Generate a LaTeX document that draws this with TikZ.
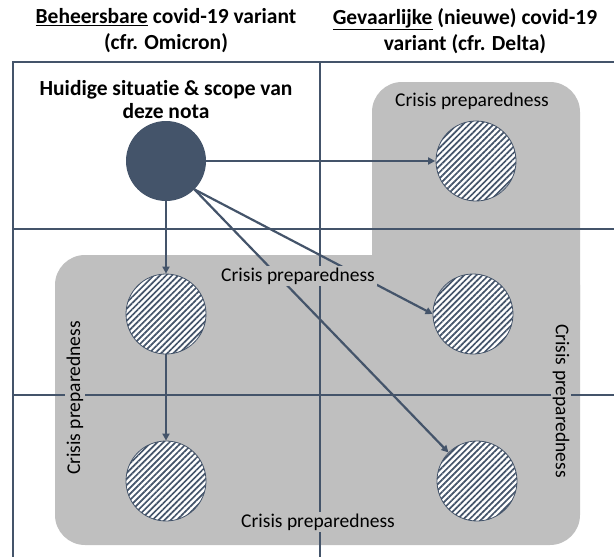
\documentclass[tikz,border=0pt]{standalone}
\usepackage{fontspec}
\setmainfont{Carlito}[Ligatures=NoCommon]
\usetikzlibrary{patterns.meta,arrows.meta}
\definecolor{ink}{HTML}{44546A}
\definecolor{prep}{HTML}{BFBFBF}
\begin{document}
\begin{tikzpicture}[x=1pt,y=-1pt,
  gridline/.style={draw=ink,line width=2.7pt},
  conn/.style={draw=ink,line width=2.2pt,-{Triangle[length=7pt,width=7pt]}},
  hatched/.style={circle,draw=ink,line width=0.8pt,minimum size=80pt,inner sep=0pt,
    preaction={fill=white},pattern={Lines[angle=45,distance=4.3pt,line width=1.7pt]},pattern color=ink},
  preplabel/.style={fill=prep,inner sep=2pt,font=\fontsize{19.5}{22}\selectfont},
  header/.style={align=center,font=\fontsize{21.5}{26}\selectfont\bfseries}]
\useasboundingbox (0,0) rectangle (614,557);
% gray regions
\fill[prep,rounded corners=30pt] (372,82) rectangle (580,350);
\fill[prep,rounded corners=30pt] (55,255) rectangle (580,545);
% grid
\draw[gridline] (614,62) -- (13,62) -- (13,557);
\draw[gridline] (320,62) -- (320,557);
\draw[gridline] (13,229) -- (614,229);
\draw[gridline] (13,395) -- (614,395);
% headers
\node[header] (hl) at (166,31) {\underline{Beheersbare} covid-19 variant\\(cfr. Omicron)};
\node[header] (hr) at (465,31) {\underline{Gevaarlijke} (nieuwe) covid-19\\variant (cfr. Delta)};
\node[header,font=\fontsize{21.5}{23}\selectfont\bfseries] (scope) at (166,100) {Huidige situatie \& scope van\\deze nota};
% circles
\node[circle,fill=ink,minimum size=80pt,inner sep=0pt] (cur) at (166,161) {};
\node[hatched] (tr) at (476,161) {};
\node[hatched] (lm) at (166,314) {};
\node[hatched] (lb) at (166,481) {};
\node[hatched] (rm) at (473,314) {};
\node[hatched] (rb) at (477,481) {};
% connectors
\draw[conn] (cur.east) -- (tr.west);
\draw[conn] (cur.south) -- (lm.north);
\draw[conn] (lm.south) -- (lb.north);
\draw[conn] (cur.south east) -- (rm.west);
\draw[conn] (cur.south east) -- (rb.north west);
% labels
\node[preplabel] (l1) at (472,101) {Crisis preparedness};
\node[preplabel] (l2) at (298,276) {Crisis preparedness};
\node[preplabel] (l3) at (318,522) {Crisis preparedness};
\node[preplabel,rotate=90] (l4) at (75,398) {Crisis preparedness};
\node[preplabel,rotate=-90] (l5) at (561,401) {Crisis preparedness};
\end{tikzpicture}
\end{document}
